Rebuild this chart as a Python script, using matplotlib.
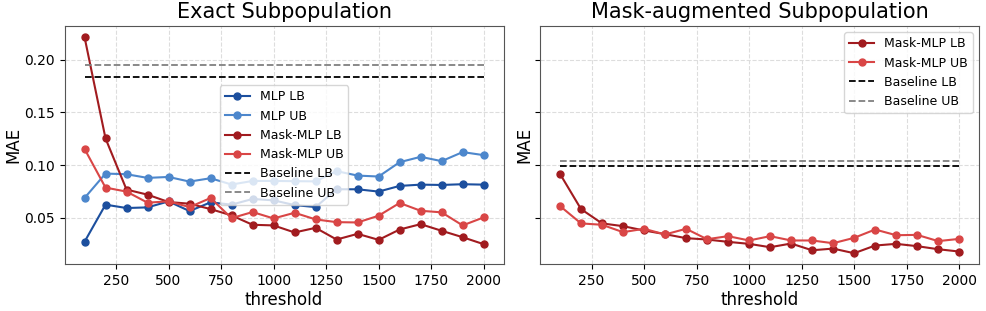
import numpy as np
import matplotlib
matplotlib.use('Agg')
import matplotlib.pyplot as plt

#------------ data ------------
thresholds = [100, 200, 300, 400, 500, 600, 700, 800, 900, 1000,
              1100, 1200, 1300, 1400, 1500, 1600, 1700, 1800, 1900, 2000]

# Exact subpopulation
mlp_lb = [0.0271, 0.0624, 0.0592, 0.0598, 0.0655, 0.0563, 0.0646, 0.0624, 0.0678, 0.0665,
          0.0620, 0.0601, 0.0770, 0.0770, 0.0748, 0.0802, 0.0814, 0.0811, 0.0818, 0.0814]
mlp_ub = [0.0687, 0.0919, 0.0913, 0.0878, 0.0887, 0.0843, 0.0875, 0.0815, 0.0849, 0.0849,
          0.0847, 0.0845, 0.0942, 0.0900, 0.0891, 0.1027, 0.1078, 0.1037, 0.1123, 0.1094]
mask_lb_exact = [0.2216, 0.1253, 0.0767, 0.0719, 0.0649, 0.0633, 0.0582, 0.0522, 0.0433, 0.0427,
                 0.0360, 0.0404, 0.0293, 0.0347, 0.0290, 0.0388, 0.0439, 0.0376, 0.0315, 0.0249]
mask_ub_exact = [0.1154, 0.0786, 0.0748, 0.0643, 0.0655, 0.0601, 0.0687, 0.0496, 0.0554, 0.0493,
                 0.0547, 0.0484, 0.0458, 0.0455, 0.0519, 0.0640, 0.0566, 0.0551, 0.0427, 0.0503]
base_lb_exact = 0.1832
base_ub_exact = 0.1946

# Mask-augmented subpopulation
mask_lb_aug = [0.0916, 0.0582, 0.0446, 0.0420, 0.0379, 0.0344, 0.0306, 0.0293, 0.0271, 0.0252,
               0.0220, 0.0255, 0.0191, 0.0207, 0.0163, 0.0236, 0.0252, 0.0230, 0.0201, 0.0179]
mask_ub_aug = [0.0611, 0.0446, 0.0433, 0.0363, 0.0395, 0.0341, 0.0395, 0.0296, 0.0325, 0.0284,
               0.0325, 0.0284, 0.0284, 0.0258, 0.0309, 0.0388, 0.0334, 0.0337, 0.0278, 0.0299]
base_lb_aug = 0.0992
base_ub_aug = 0.1037

c_mlp_lb = '#1c4f9e'
c_mlp_ub = '#4d87cc'
c_mask_lb = '#a11b1f'
c_mask_ub = '#d94646'

#------------ plot ------------
fig, (ax1, ax2) = plt.subplots(1, 2, figsize=(9.87, 3.11), dpi=100, sharey=True)
fig.subplots_adjust(left=0.0654, right=0.992, bottom=0.151, top=0.916, wspace=0.083)

t = np.array(thresholds)
kw = dict(marker='o', markersize=5, linewidth=1.5)

ax1.plot(t, mlp_lb, color=c_mlp_lb, label='MLP LB', **kw)
ax1.plot(t, mlp_ub, color=c_mlp_ub, label='MLP UB', **kw)
ax1.plot(t, mask_lb_exact, color=c_mask_lb, label='Mask-MLP LB', **kw)
ax1.plot(t, mask_ub_exact, color=c_mask_ub, label='Mask-MLP UB', **kw)
ax1.plot([t[0], t[-1]], [base_lb_exact] * 2, '--', color='black', linewidth=1.3, label='Baseline LB')
ax1.plot([t[0], t[-1]], [base_ub_exact] * 2, '--', color='gray', linewidth=1.3, label='Baseline UB')
ax1.set_title('Exact Subpopulation', fontsize=15)
ax1.legend(loc='center', fontsize=9)

ax2.plot(t, mask_lb_aug, color=c_mask_lb, label='Mask-MLP LB', **kw)
ax2.plot(t, mask_ub_aug, color=c_mask_ub, label='Mask-MLP UB', **kw)
ax2.plot([t[0], t[-1]], [base_lb_aug] * 2, '--', color='black', linewidth=1.3, label='Baseline LB')
ax2.plot([t[0], t[-1]], [base_ub_aug] * 2, '--', color='gray', linewidth=1.3, label='Baseline UB')
ax2.set_title('Mask-augmented Subpopulation', fontsize=15)
ax2.legend(loc='upper right', fontsize=9)

for ax in (ax1, ax2):
    ax.set_xlabel('threshold', fontsize=12, labelpad=2)
    ax.set_ylabel('MAE', fontsize=12, labelpad=1)
    ax.set_xticks([250, 500, 750, 1000, 1250, 1500, 1750, 2000])
    ax.set_yticks([0.05, 0.10, 0.15, 0.20])
    ax.tick_params(labelsize=10)
    ax.grid(True, linestyle='--', color='#dddddd', linewidth=0.8)
    for s in ax.spines.values():
        s.set_color('#555555')

fig.savefig('out.png')
